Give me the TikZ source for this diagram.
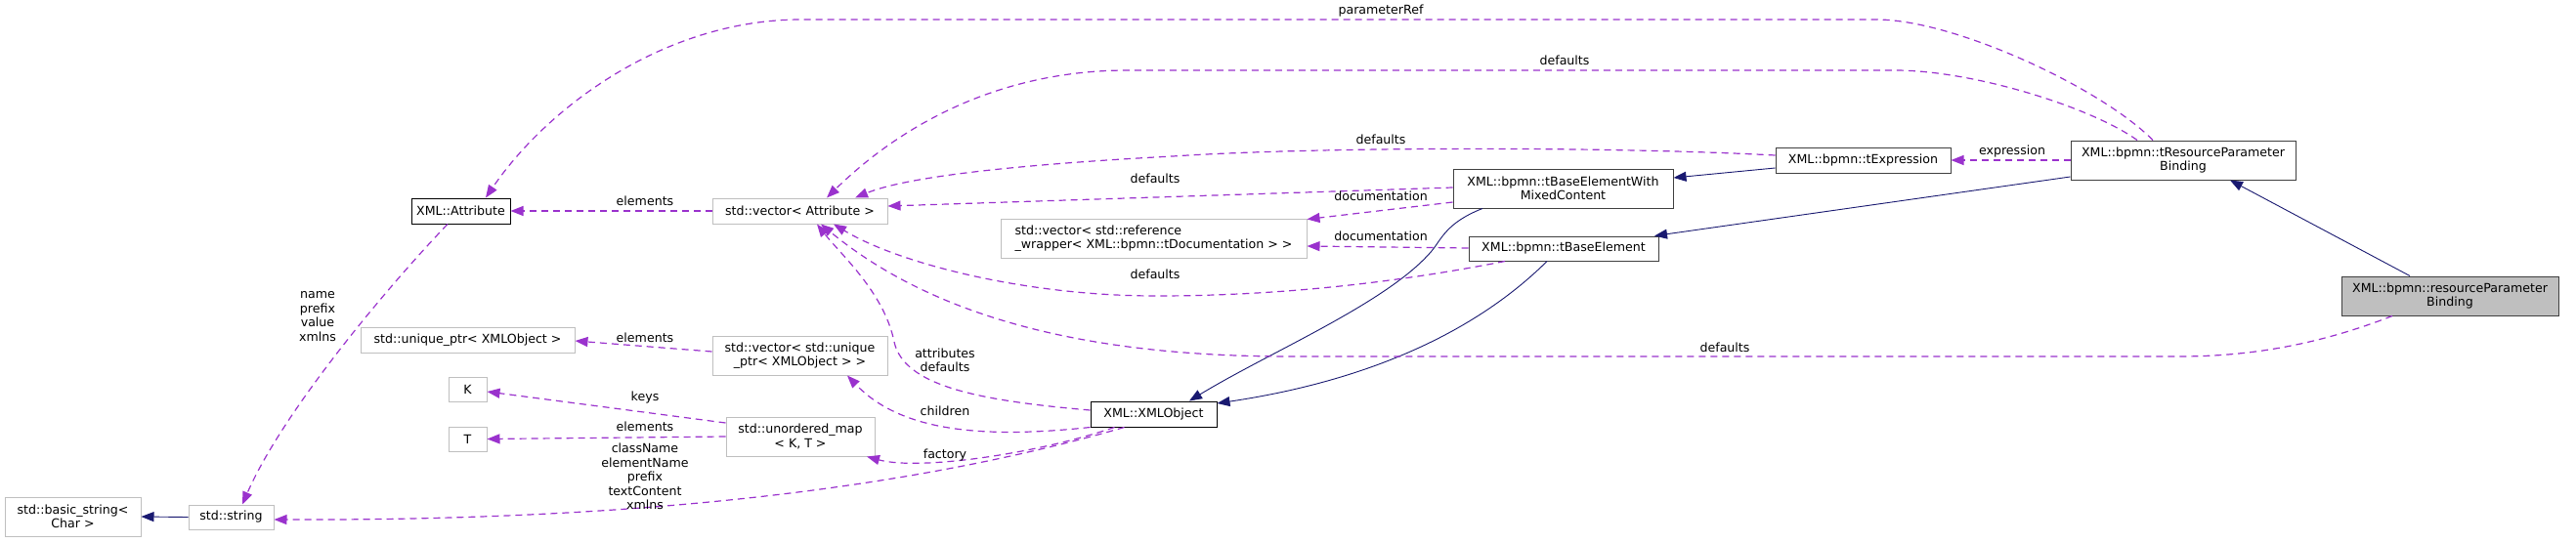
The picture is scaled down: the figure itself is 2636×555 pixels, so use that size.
\documentclass[tikz,border=0pt]{standalone}
\usepackage{fontspec}
\setmainfont{DejaVu Sans}
\usetikzlibrary{arrows.meta}
\definecolor{Edge}{HTML}{9A32CD}
\definecolor{Navy}{HTML}{191970}
\definecolor{Frame}{HTML}{BFBFBF}
\definecolor{DocFrame}{HTML}{404040}
\tikzset{
  box/.style={rectangle, inner sep=0pt, fill=white, align=center, font=\fontsize{12.6}{14.5}\selectfont},
  extbox/.style={box, draw=Frame, line width=1pt},
  docbox/.style={box, draw=DocFrame, line width=1pt},
  member/.style={Edge, line width=1.2pt, dash pattern=on 7pt off 5pt, -{Triangle[length=13pt,width=10pt]}},
  inherit/.style={Navy, line width=0.9pt, -{Triangle[length=13pt,width=10pt]}},
  lbl/.style={inner sep=0pt, align=center, font=\fontsize{12.6}{14.5}\selectfont}
}

\begin{document}
\begin{tikzpicture}[x=1pt, y=-1pt]
  \useasboundingbox (0,0) rectangle (2636,555);
  % classes
  \node[docbox, draw=black, minimum width=101, minimum height=26] (attribute) at (471.5,216) {XML::Attribute};
  \node[extbox, minimum width=179, minimum height=26] (vecAttr) at (818.5,216) {std::vector< Attribute >};
  \node[extbox, minimum width=219, minimum height=26] (uniquePtr) at (478.5,348) {std::unique\_ptr< XMLObject >};
  \node[extbox, minimum width=39, minimum height=25] (keyType) at (478.5,398.5) {K};
  \node[extbox, minimum width=39, minimum height=25] (valType) at (478.5,449.5) {T};
  \node[extbox, minimum width=139, minimum height=40] (basicString) at (74.5,529) {std::basic\_string<\\Char >};
  \node[extbox, minimum width=87, minimum height=25] (stdString) at (236.5,529.5) {std::string};
  \node[extbox, minimum width=179, minimum height=40] (vecUnique) at (818.5,364) {std::vector< std::unique\\\_ptr< XMLObject > >};
  \node[extbox, minimum width=152, minimum height=40] (mapKT) at (819,447) {std::unordered\_map\\< K, T >};
  \node[docbox, draw=black, minimum width=129, minimum height=26] (xmlObject) at (1180.5,424) {XML::XMLObject};
  \node[extbox, align=left, minimum width=313, minimum height=40] (refWrapper) at (1180.5,244) {std::vector< std::reference\\\_wrapper< XML::bpmn::tDocumentation > >};
  \node[docbox, minimum width=225, minimum height=40] (mixed) at (1599.5,193) {XML::bpmn::tBaseElementWith\\MixedContent};
  \node[docbox, minimum width=194, minimum height=25] (baseElement) at (1600,254.5) {XML::bpmn::tBaseElement};
  \node[docbox, minimum width=179, minimum height=26] (expression) at (1906.5,164) {XML::bpmn::tExpression};
  \node[docbox, minimum width=230, minimum height=40] (tResource) at (2234,164) {XML::bpmn::tResourceParameter\\Binding};
  \node[docbox, fill=Frame, minimum width=222, minimum height=40] (resource) at (2507,303) {XML::bpmn::resourceParameter\\Binding};

  % inheritance
  \draw[inherit] (stdString.west) -- (basicString.east);
  \draw[inherit] ([xshift=-41]resource.north) -- ([xshift=48]tResource.south);
  \draw[inherit] ([yshift=-17]tResource.west) -- ([xshift=93]baseElement.north);
  \draw[inherit] ([yshift=-8]expression.west) -- ([yshift=11]mixed.east);
  \draw[inherit] ([xshift=-82.5]mixed.south) .. controls (1480,228) and (1475,245) .. (1465,257)
    .. controls (1420,310) and (1300,360) .. ([xshift=36.5]xmlObject.north);
  \draw[inherit] ([xshift=-17]baseElement.south) .. controls (1510,340) and (1400,390) .. ([yshift=11]xmlObject.east);

  % members
  \draw[member] ([xshift=-31]tResource.north) .. controls (2150,90) and (2000,20) .. (1920,20) -- (820,20)
    .. controls (680,20) and (560,110) .. ([xshift=25.5]attribute.north);
  \draw[member] ([xshift=-47]tResource.north) .. controls (2140,110) and (2020,72) .. (1939,72) -- (1154,72)
    .. controls (1020,72) and (920,130) .. ([xshift=27.5]vecAttr.north);
  \draw[member] ([yshift=5]expression.west) .. controls (1650,150) and (1350,150) .. (1200,160)
    .. controls (1050,168) and (930,180) .. ([xshift=56.5]vecAttr.north);
  \draw[member] ([yshift=1]mixed.west) -- ([yshift=5]vecAttr.east);
  \draw[member] ([yshift=-14]mixed.west) -- ([yshift=-1]refWrapper.north east);
  \draw[member] ([yshift=0.5]baseElement.west) -- ([yshift=-8]refWrapper.east);
  \draw[member] ([xshift=-60]baseElement.south) .. controls (1400,295) and (1280,303) .. (1183,303)
    .. controls (1050,303) and (920,270) .. ([xshift=34.5]vecAttr.south);
  \draw[member] ([xshift=-59]resource.south) .. controls (2380,350) and (2310,365) .. (2230,365) -- (1320,365)
    .. controls (1100,365) and (950,320) .. ([xshift=21.5]vecAttr.south);
  \draw[member] (tResource.west) -- (expression.east);
  \draw[member] ([yshift=4]xmlObject.west) .. controls (1000,410) and (925,395) .. (915,350)
    .. controls (905,300) and (860,260) .. ([xshift=17.5]vecAttr.south);
  \draw[member] (xmlObject.south west) .. controls (1000,450) and (920,440) .. ([xshift=48.5]vecUnique.south);
  \draw[member] ([xshift=-40]xmlObject.south) .. controls (1060,465) and (940,482) .. ([xshift=68]mapKT.south);
  \draw[member] ([xshift=-30]xmlObject.south) .. controls (900,510) and (600,533) .. ([yshift=-2.5]stdString.east);
  \draw[member] (vecAttr.west) -- (attribute.east);
  \draw[member] ([yshift=4]vecUnique.west) -- ([yshift=-1]uniquePtr.east);
  \draw[member] ([yshift=14]mapKT.west) -- ([yshift=-2.5]keyType.east);
  \draw[member] (mapKT.west) -- (valType.east);
  \draw[member] ([xshift=-13.5]attribute.south) .. controls (400,290) and (290,420) .. ([xshift=11.5]stdString.north);

  % labels
  \node[lbl] (lblParamRef) at (1413,11) {parameterRef};
  \node[lbl] (lblDefTop) at (1601,62) {defaults};
  \node[lbl] (lblDefExpr) at (1413,143) {defaults};
  \node[lbl] (lblDefMixed) at (1182,183) {defaults};
  \node[lbl] (lblDocMixed) at (1413,201) {documentation};
  \node[lbl] (lblDocBase) at (1413,242) {documentation};
  \node[lbl] (lblDefBase) at (1182,281) {defaults};
  \node[lbl] (lblDefRes) at (1765,356) {defaults};
  \node[lbl] (lblExpr) at (2059,155) {expression};
  \node[lbl] (lblElemAttr) at (660,206) {elements};
  \node[lbl] (lblElemPtr) at (660,346) {elements};
  \node[lbl] (lblKeys) at (660,407) {keys};
  \node[lbl] (lblElemT) at (660,437) {elements};
  \node[lbl] (lblStrings) at (660,488) {className\\elementName\\prefix\\textContent\\xmlns};
  \node[lbl] (lblAttrDef) at (967,369) {attributes\\defaults};
  \node[lbl] (lblChildren) at (967,421) {children};
  \node[lbl] (lblFactory) at (967,466) {factory};
  \node[lbl] (lblAttrStr) at (325,324) {name\\prefix\\value\\xmlns};
\end{tikzpicture}
\end{document}
